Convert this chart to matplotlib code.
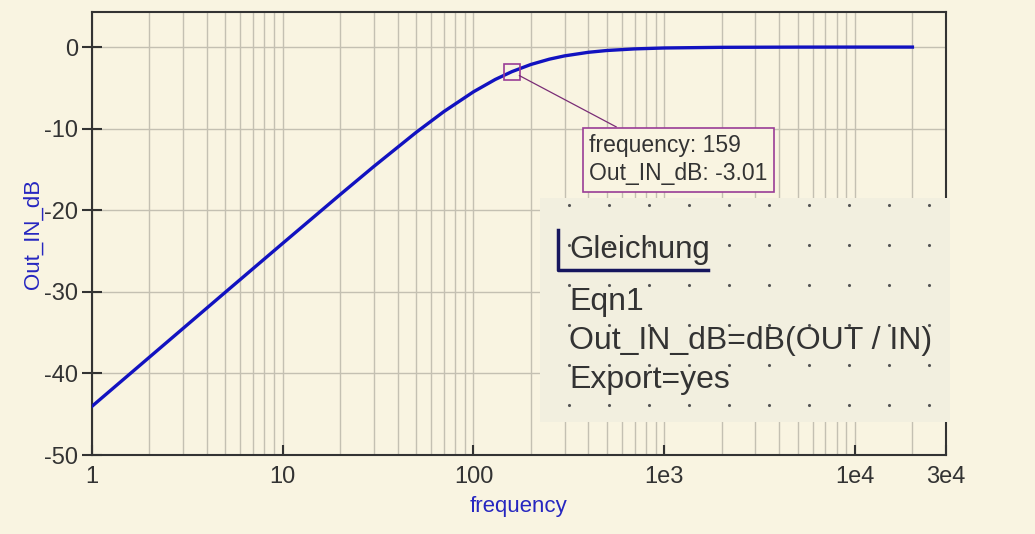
import matplotlib.pyplot as plt
from matplotlib.patches import Rectangle
from matplotlib.ticker import FixedLocator, NullFormatter

# values (Qucs AC sweep, high-pass RC)
frequency = [1, 2, 3, 5, 10, 20, 30, 50, 70, 100, 130, 159, 200, 250, 300,
             400, 500, 700, 1000, 2000, 5000, 10000, 20000]
out_in_db = [-44.03, -38.01, -34.49, -30.05, -24.05, -18.08, -14.64, -10.46,
             -7.90, -5.48, -3.97, -3.01, -2.13, -1.48, -1.08, -0.64, -0.42,
             -0.22, -0.11, -0.03, -0.004, -0.001, 0.0]
marker_f = 159
marker_db = -3.01
xticks = [1, 10, 100, 1000, 10000, 30000]
xticklabels = ['1', '10', '100', '1e3', '1e4', '3e4']
yticks = [-50, -40, -30, -20, -10, 0]
eqn_lines = ['Eqn1', 'Out_IN_dB=dB(OUT / IN)', 'Export=yes']

bg = '#F9F4E1'
plt.rcParams['font.family'] = ['Liberation Sans', 'DejaVu Sans']
plt.rcParams['axes.unicode_minus'] = False

fig = plt.figure(figsize=(10.35, 5.34), dpi=100, facecolor=bg)
ax = fig.add_axes([92/1035, 1-455/534, 854/1035, 443/534], facecolor=bg)

ax.plot(frequency, out_in_db, color='#1212C0', lw=2.4, zorder=3)
ax.set_xscale('log')
ax.set_xlim(1, 30000)
ax.set_ylim(-50, 4.3)

minor = [m * 10**d for d in range(0, 5) for m in range(2, 10) if m * 10**d < 30000]
ax.xaxis.set_major_locator(FixedLocator(xticks))
ax.xaxis.set_minor_locator(FixedLocator(minor))
ax.xaxis.set_minor_formatter(NullFormatter())
ax.set_xticklabels(xticklabels)
ax.set_yticks(yticks)

ax.grid(True, which='both', axis='x', color='#C4C0B2', lw=1)
ax.grid(True, which='major', axis='y', color='#C4C0B2', lw=1)
ax.tick_params(axis='x', which='major', direction='in', length=7, width=1.5,
               color='#333333', labelsize=17, labelcolor='#333333', pad=8)
ax.tick_params(axis='x', which='minor', length=0)
ax.tick_params(axis='y', direction='inout', length=14, width=1.5,
               color='#333333', labelsize=17, labelcolor='#333333', pad=3)
for s in ax.spines.values():
    s.set_color('#333333')
    s.set_linewidth(1.5)

ax.set_xlabel('frequency', color='#2626C0', fontsize=16, labelpad=6)
ax.set_ylabel('Out_IN_dB', color='#2626C0', fontsize=16, labelpad=0)

# marker and readout box
ax.plot([marker_f], [marker_db], marker='s', ms=12, mfc='none',
        mec='#9A3D96', mew=1.2, zorder=4)
ax.annotate('frequency: %d\nOut_IN_dB: %.2f' % (marker_f, marker_db),
            xy=(marker_f, marker_db), xycoords='data',
            xytext=(589/1035, 1-134/534), textcoords='figure fraction',
            ha='left', va='top', fontsize=16.5, color='#333333', linespacing=1.3,
            bbox=dict(boxstyle='square,pad=0.28', fc=bg, ec='#9A3D96', lw=1.2),
            arrowprops=dict(arrowstyle='-', color='#7A2D76', lw=0.9,
                            shrinkA=0, shrinkB=6), zorder=5)

# equation component box on top
eq = fig.add_axes([540/1035, 1-422/534, 410/1035, 224/534], facecolor='#F2EFDF')
eq.set_xlim(0, 410)
eq.set_ylim(224, 0)
eq.axis('off')
eq.add_patch(Rectangle((0, 0), 410, 224, fc='#F2EFDF', ec='none', zorder=0))
dx = [29 + 40 * k for k in range(10)]
dy = [7 + 40 * j for j in range(6)]
eq.scatter([x for x in dx for y in dy], [y for x in dx for y in dy],
           s=1.5, color='#555555', zorder=1)
eq.text(29, 60, 'Gleichung', fontsize=22.5, color='#333333', va='baseline', zorder=3)
eq.plot([18, 18, 168], [32, 72, 72], color='#16165E', lw=2.5, zorder=3)
for i, line in enumerate(eqn_lines):
    eq.text(29, 112 + 39 * i, line, fontsize=23, color='#333333',
            va='baseline', zorder=3)

fig.savefig('out.png', dpi=100, facecolor=bg)
